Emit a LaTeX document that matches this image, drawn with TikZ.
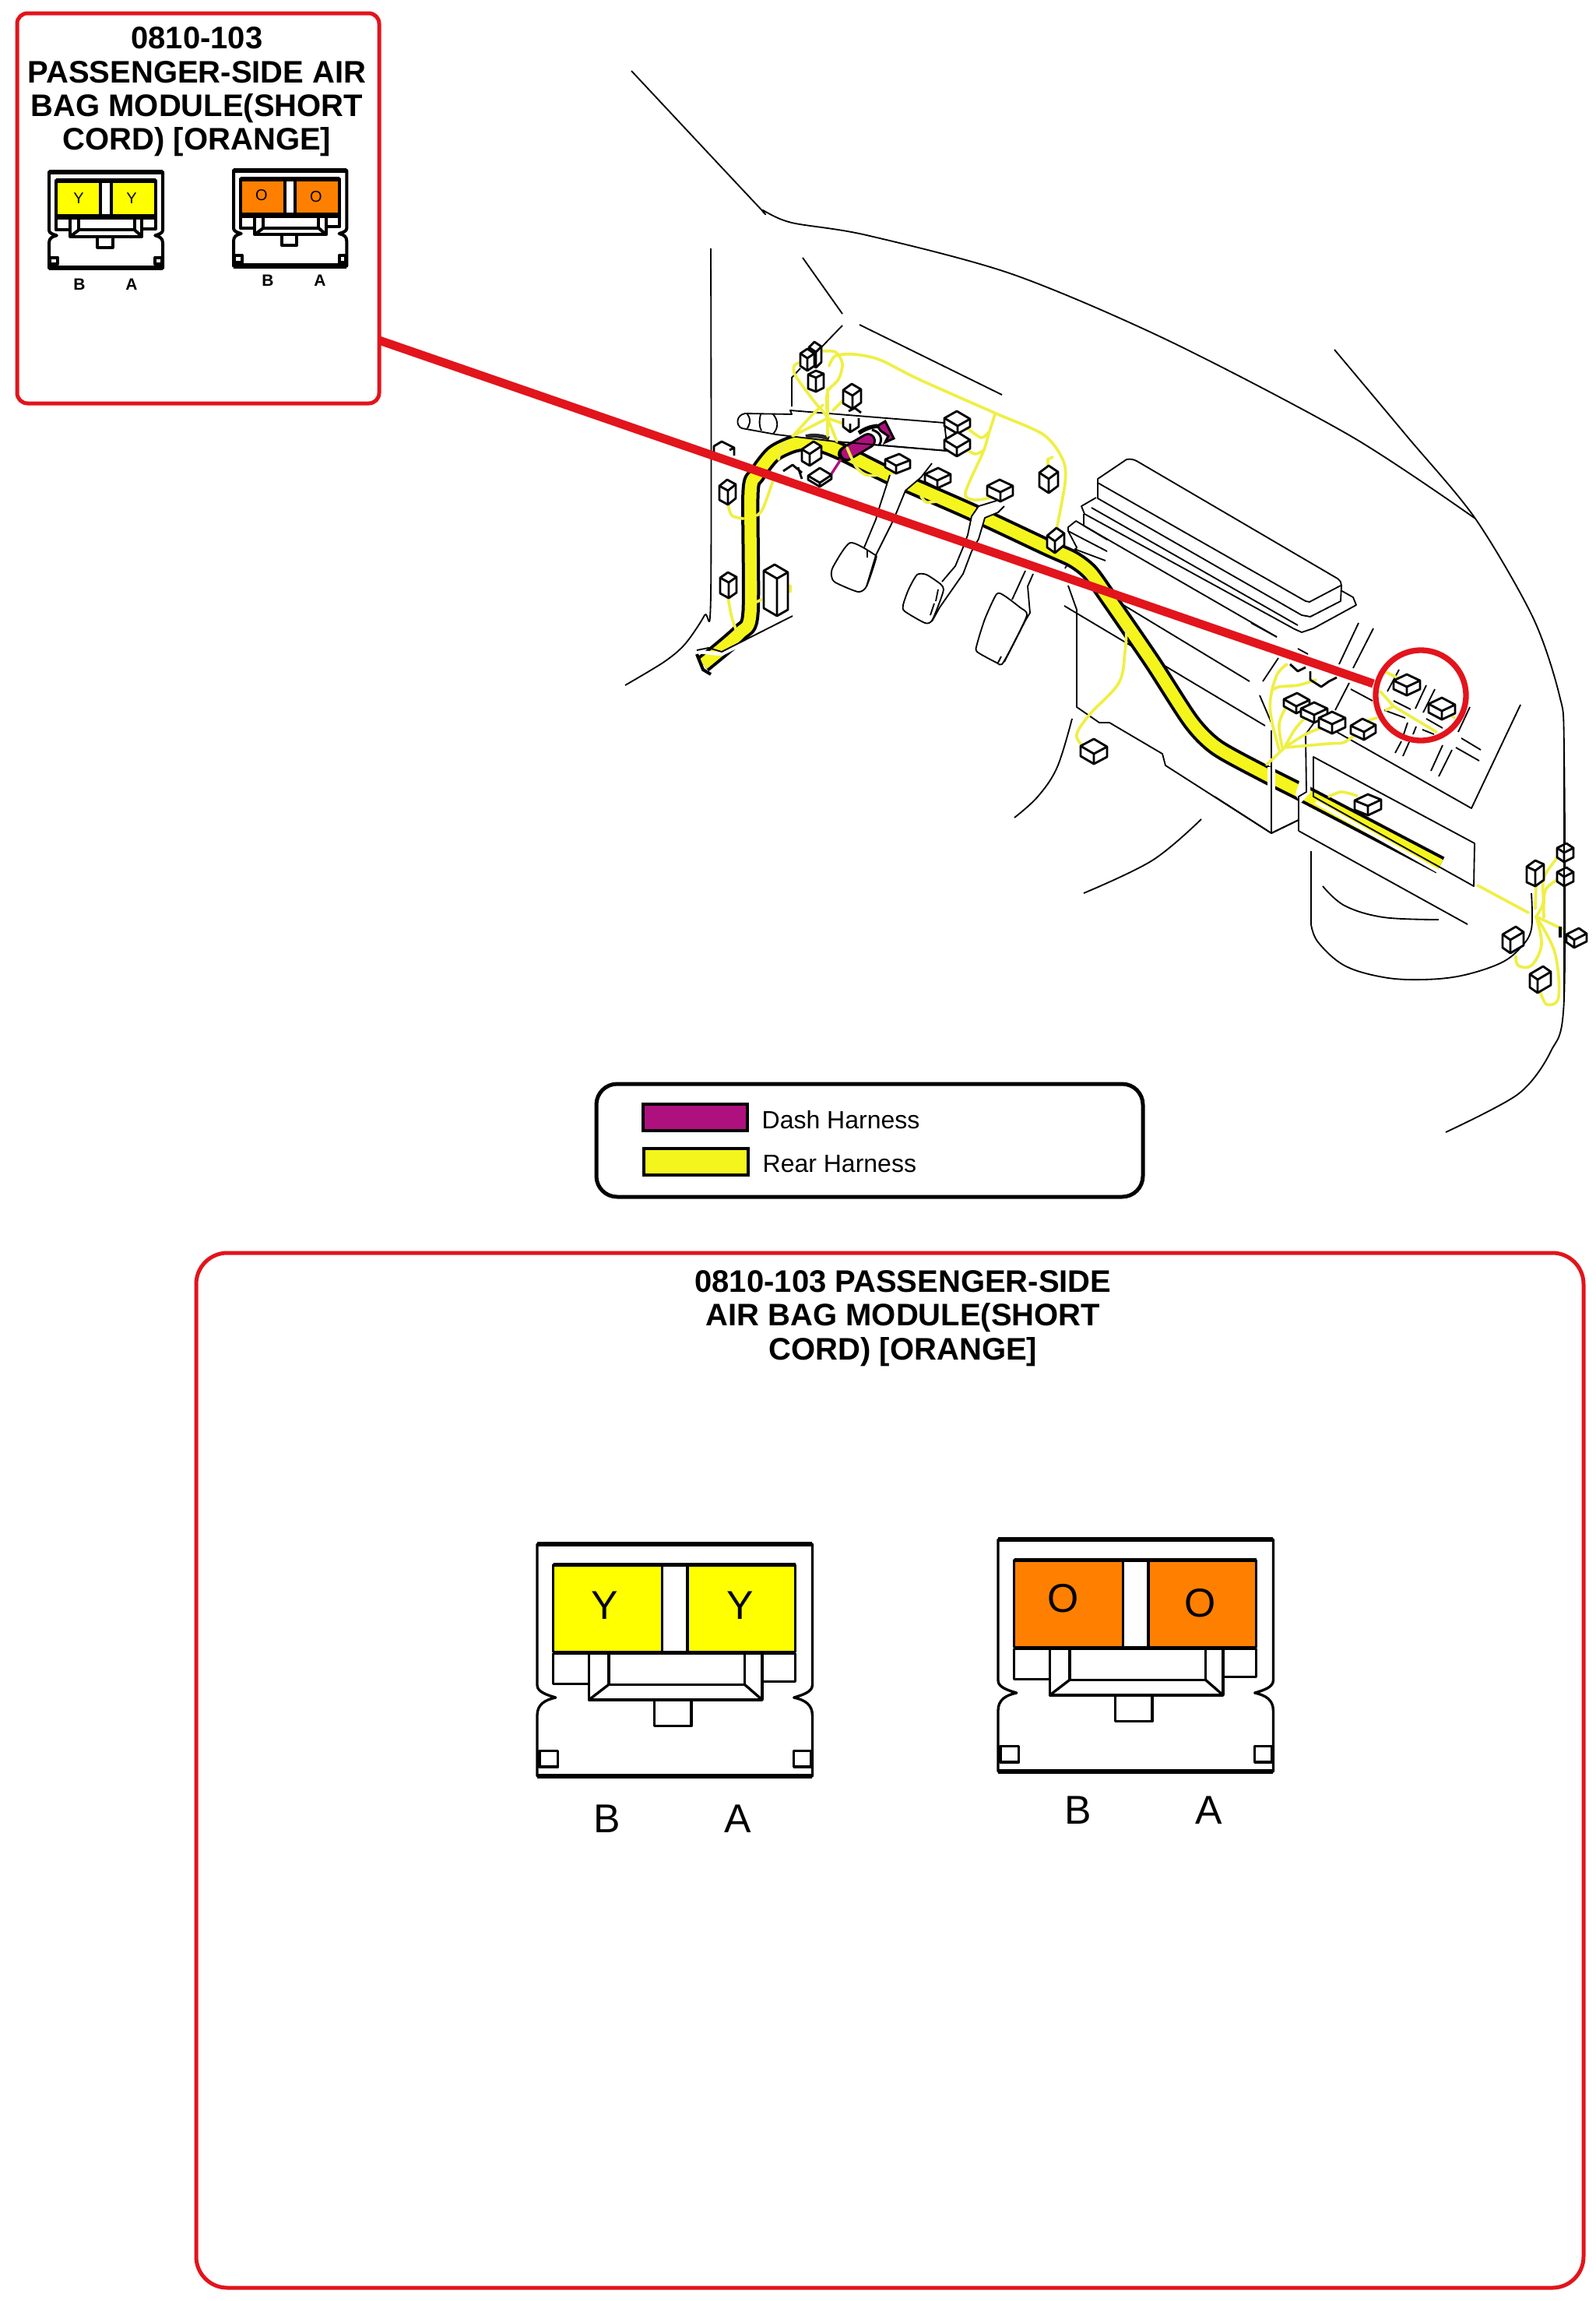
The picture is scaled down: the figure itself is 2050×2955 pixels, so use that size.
\documentclass[tikz,border=0pt]{standalone}
\usepackage{fontspec}
\setmainfont{Liberation Sans}
\definecolor{redline}{HTML}{E2141C}
\definecolor{plugyellow}{HTML}{FFFF00}
\definecolor{plugorange}{HTML}{FF8000}
\definecolor{harnessyellow}{HTML}{F5F51E}
\definecolor{wireyellow}{HTML}{EFEF45}
\definecolor{dashpurple}{HTML}{AE107E}
\tikzset{
    body/.style={line width=0.55pt,black,line join=round},
    wire/.style={line width=1.1pt,wireyellow,line cap=round},
    purplewire/.style={line width=1pt,dashpurple},
    calloutbox/.style={line width=1.5pt,draw=redline,rounded corners=4pt},
    title/.style={font=\bfseries\fontsize{12}{13}\selectfont,align=center,inner sep=0pt},
    bigletter/.style={font=\fontsize{15.5}{16}\selectfont,inner sep=0pt},
    tinyletter/.style={font=\fontsize{6}{6}\selectfont,inner sep=0pt},
    tinypin/.style={font=\bfseries\fontsize{6.3}{6}\selectfont,inner sep=0pt},
    legendtext/.style={font=\fontsize{9.6}{10}\selectfont,inner sep=0pt,anchor=west},
}
\newcommand{\plugcube}[7]{
    \filldraw[body,line width=0.85pt,fill=white] (#1,#2) ++(-#3,-#4) -- ++(#5,-#6) -- ++(#3,#4) -- ++(0,#7) -- ++(-#5,#6) -- ++(-#3,-#4) -- cycle;
    \draw[body,line width=0.85pt] (#1,#2) ++(-#3,-#4) -- ++(#3,#4) -- ++(#5,-#6) (#1,#2) -- ++(0,#7);
}
\newcommand{\plugbody}[5]{
    \begin{scope}[shift={(#1,#2)},scale=#3,line width=#5,line join=round]
        \filldraw[fill=white] (0,0) -- (0,183) .. controls (0,192) and (14,196) .. (24,199) .. controls (10,202) and (0,208) .. (0,222) -- (0,301) -- (357,301) -- (357,222) .. controls (357,208) and (347,202) .. (333,199) .. controls (343,196) and (357,192) .. (357,183) -- (357,0) -- cycle;
        \draw[line width=1.6*#5] (0,0) -- (357,0) (0,301) -- (357,301);
        \filldraw[fill=#4] (21,27) rectangle (162,140);
        \filldraw[fill=#4] (195,27) rectangle (335,140);
        \draw[line width=1.6*#5] (21,27) -- (335,27) (21,141) -- (335,141);
        \draw (21,141) -- (21,181) -- (67,181) (335,141) -- (335,178) -- (292,178);
        \draw (67,141) -- (67,202) -- (292,202) -- (292,141);
        \draw (93,141) -- (93,182) -- (269,182) -- (269,141);
        \draw (67,202) -- (93,182) (292,202) -- (269,182);
        \draw (152,202) -- (152,236) -- (200,236) -- (200,202);
        \draw (3,268) rectangle (27,289) (333,268) rectangle (355,289);
    \end{scope}
}
\begin{document}
\begin{tikzpicture}[x=0.3pt,y=-0.3pt]
    \useasboundingbox[fill=white] (0,0) rectangle (2050,2955);

    % outer car lines
    \draw[body] plot[smooth,tension=0.5] coordinates {(811,91) (972,263) (980,270) (1017,286) (1113,302) (1300,352) (1500,437) (1735,560) (1895,666)};
    \draw[body] plot[smooth,tension=0.5] coordinates {(1714,449) (1807,560) (1895,666) (1969,793) (2003,893) (2009,960) (2009,1283) (1992,1350) (1950,1405) (1857,1454)};
    \draw[body] (1031,331) -- (1082,403) (1082,418) -- (1053,448) (1104,417) -- (1287,507);
    \draw[body] (1028,473) -- (1017,485) -- (1017,522);
    \draw[body] plot[smooth,tension=0.5] coordinates {(913,319) (913,763) (905,790) (880,827) (853,850) (803,880)};

    % console
    \draw[body] (1410,640) -- (1410,615) -- (1447,590) .. controls (1452,589) and (1456,590) .. (1460,592) -- (1718,743) .. controls (1722,746) and (1723,749) .. (1723,752) -- (1722,772) -- (1683,792) -- (1672,790) -- cycle;
    \draw[body] (1410,620) -- (1677,772) -- (1682,773) -- (1722,752);
    \draw[body] (1408,639) -- (1389,650) -- (1393,660) -- (1663,808) -- (1672,812) -- (1687,807) -- (1742,777) -- (1738,767) -- (1722,758);
    \draw[body] (1402,652) -- (1667,803) (1392,660) -- (1392,675) -- (1640,818);
    \draw[body] (1382,669) -- (1372,677) -- (1372,682) -- (1422,708) (1382,669) -- (1422,693);
    \draw[body] (1372,682) -- (1383,703) -- (1368,730) (1380,705) -- (1420,720);
    \draw[body] (1372,752) -- (1383,783) -- (1383,908) -- (1412,928) -- (1425,928) -- (1493,968) -- (1497,983) -- (1633,1070) -- (1668,1053);
    \draw[body] plot[smooth,tension=0.6] coordinates {(1377,923) (1358,985) (1333,1023) (1303,1050)};
    \draw[body] plot[smooth,tension=0.6] coordinates {(1543,1052) (1480,1105) (1392,1147)};
    \draw[body] (1367,778) -- (1625,932) (1443,777) -- (1605,875);
    \draw[body] (1607,800) -- (1640,818) (1642,845) -- (1622,875) (1618,893) -- (1633,928) (1667,833) -- (1680,840);
    \draw[body] (1745,800) -- (1720,853) (1764,807) -- (1738,858) (1735,885) -- (1763,900) (1733,877) -- (1715,912);
    \draw[body] (1797,860) -- (1782,888) (1790,900) -- (1812,911) (1778,912) -- (1805,922) (1832,880) -- (1818,910) (1843,885) -- (1828,915);
    \draw[body] (1832,923) -- (1853,935) (1827,937) -- (1842,943) (1888,908) -- (1873,940) (1877,948) -- (1902,963) (1870,960) -- (1900,977);
    \draw[body] (1853,957) -- (1838,990) (1865,963) -- (1848,997) (1808,928) -- (1803,943) (1819,933) -- (1815,943) (1800,952) -- (1792,967) (1810,953) -- (1802,971);
    \draw[body] (1717,940) -- (1890,1038) -- (1953,905);

    % lower part and panel
    \draw[body] (1684,1093) -- (1684,1187);
    \draw[body] plot[smooth,tension=0.6] coordinates {(1684,1187) (1693,1210) (1727,1240) (1777,1255) (1827,1258) (1877,1253) (1927,1237) (1953,1217) (1967,1193) (1967,1147)};
    \draw[body] plot[smooth,tension=0.6] coordinates {(1699,1138) (1727,1163) (1777,1178) (1848,1181)};
    \draw[body] (1668,1067) -- (1885,1187);

    % rear harness
    \draw[line width=7pt,black,line join=round] plot[smooth,tension=0.45] coordinates {(903,853) (950,813) (964,787) (964,633) (972,610) (993,583) (1020,570) (1047,568) (1080,580) (1147,613) (1247,657) (1343,702) (1378,718) (1400,735) (1423,767) (1480,850) (1530,927) (1563,960) (1623,993) (1682,1023) (1850,1111)};
    \draw[line width=4.6pt,harnessyellow,line join=round] plot[smooth,tension=0.45] coordinates {(903,853) (950,813) (964,787) (964,633) (972,610) (993,583) (1020,570) (1047,568) (1080,580) (1147,613) (1247,657) (1343,702) (1378,718) (1400,735) (1423,767) (1480,850) (1530,927) (1563,960) (1623,993) (1682,1023) (1850,1111)};
    \draw[line width=1.2pt,black] (895,840) -- (903,860) -- (913,866);
    \fill[white] (1628,985) rectangle (1638,1040);
    \fill[white] (1673,990) -- (1683,990) -- (1683,1018) -- (1670,1032) -- (1664,1020) -- cycle;
    \draw[white,line width=1.4pt] (1690,1030) -- (1860,1126);
    \draw[white,line width=1.4pt] (886,836) -- (927,840) -- (1018,794);
    \draw[body] (895,835) -- (910,832) -- (927,837) -- (1018,791);

    % console verticals over harness
    \draw[body] (1633,938) -- (1633,1070) (1560,1023) -- (1633,1070);
    \draw[body] (1688,928) -- (1677,943) -- (1678,1017) -- (1668,1023) -- (1668,1067);
    \draw[body] (1633,1070) -- (1668,1053);
    \draw[body] (1687,1023) -- (1687,972) -- (1894,1083) -- (1893,1138) -- cycle;

    % pedals
    \fill[white] (1143,610) -- (1130,650) -- (1125,667) -- (1110,703) -- (1125,713) -- (1145,673) -- (1152,657) -- (1163,630) -- (1183,613) -- (1197,595) -- cycle;
    \draw[body] (1143,610) -- (1130,650) -- (1125,667) -- (1110,703);
    \draw[body] (1197,595) -- (1183,613) -- (1163,630) -- (1152,657) -- (1145,673) -- (1125,713) -- (1113,753);
    \draw[body] plot[smooth cycle,tension=0.4] coordinates {(1092,697) (1123,712) (1125,718) (1113,753) (1102,760) (1073,748) (1068,740) (1070,728)};
    \draw[body] (1114,707) -- (1114,716);
    \fill[white] (1280,643) -- (1257,650) -- (1248,663) -- (1243,687) -- (1237,703) -- (1227,727) -- (1210,747) -- (1207,780) -- (1237,737) -- (1248,708) -- (1257,692) -- (1265,665) -- (1282,658) -- (1290,650) -- cycle;
    \draw[body] (1280,643) -- (1257,650) -- (1248,663) -- (1243,687) -- (1237,703) -- (1227,727) -- (1210,747);
    \draw[body] (1290,650) -- (1282,658) -- (1265,665) -- (1257,692) -- (1248,708) -- (1237,737) -- (1207,780) -- (1197,798);
    \draw[body] plot[smooth cycle,tension=0.4] coordinates {(1178,738) (1190,738) (1208,750) (1212,757) (1207,773) (1197,797) (1188,800) (1162,785) (1160,777) (1167,757)};
    \draw[body] (1205,757) -- (1202,772) (1200,775) -- (1195,790);
    \draw[body] (1317,733) -- (1300,770) (1327,737) -- (1320,753) -- (1323,787) -- (1317,797) -- (1290,850);
    \draw[body] plot[smooth cycle,tension=0.4] coordinates {(1280,763) (1290,765) (1310,780) (1319,790) (1300,830) (1287,853) (1280,851) (1255,837) (1255,827) (1265,795)};
    \draw[body] (1286,843) -- (1282,851);

    % steering column
    \filldraw[body,fill=white] (1015,527) -- (1213,543) -- (1217,579) -- (1073,567) -- (997,558) -- (953,550) .. controls (945,547) and (945,533) .. (957,531) -- (1017,532) -- cycle;
    \draw[body] (960,532) .. controls (966,540) and (962,546) .. (960,550);
    \draw[body] (977,532) .. controls (975,540) and (975,548) .. (978,553);
    \draw[body] (993,532) .. controls (1000,540) and (1000,550) .. (993,557);
    \draw[line width=1.6pt,black!85] (1035,561) .. controls (1045,558) and (1055,560) .. (1065,563);

    % dash harness
    \draw[line cap=round,line width=6pt,black] (1086,583) -- (1115,566);
    \draw[line cap=round,line width=4.2pt,dashpurple] (1088,582) -- (1115,566);
    \filldraw[line width=0.9pt,fill=dashpurple] (1127,547) -- (1137,541) -- (1148,563) -- (1137,568) -- (1141,560) -- (1131,553) -- cycle;
    \draw[line width=1.6pt] (1103,556) .. controls (1115,548) and (1122,548) .. (1127,547);
    \draw[body,line width=0.9pt] (1120,552) .. controls (1132,555) and (1134,565) .. (1129,572);
    \draw[body] (1073,567) -- (1217,579);
    \draw[purplewire] (1080,590) -- (1067,610);

    % wires
    \draw[wire] plot[smooth] coordinates {(1028,465) (1020,470) (1022,483) (1047,517) (1057,528) (1063,537)};
    \draw[wire] plot[smooth] coordinates {(1053,451) (1073,452) (1082,467) (1077,487) (1063,503) (1062,527)};
    \draw[wire] plot[smooth,tension=0.5] coordinates {(1065,470) (1073,457) (1097,455) (1130,462) (1180,487) (1277,530) (1340,558) (1365,590) (1368,620) (1355,690)};
    \draw[wire] plot[smooth] coordinates {(1278,532) (1270,557) (1263,580) (1240,633) (1253,642) (1277,638)};
    \draw[wire] plot[smooth] coordinates {(1240,548) (1260,562) (1270,555)};
    \draw[wire] plot[smooth] coordinates {(1240,577) (1253,583) (1264,578)};
    \draw[wire] (1352,587) -- (1346,590) -- (1346,607);
    \draw[wire] (1063,537) -- (1018,560) (1063,537) -- (1075,567) (1063,537) -- (1063,560) (1063,500) -- (1063,537) (1063,537) -- (1083,544) (1082,515) -- (1070,527) (1043,533) -- (1020,558) (1043,533) -- (1057,520);
    \draw[wire] plot[smooth] coordinates {(1010,568) (1003,577) (1000,590)};
    \draw[wire] plot[smooth] coordinates {(993,617) (980,653) (972,662)};
    \draw[wire] plot[smooth] coordinates {(935,647) (940,662) (955,666)};
    \draw[wire] plot[smooth] coordinates {(935,767) (940,793) (946,810)};
    \draw[wire] (972,773) -- (978,770) (1015,752) -- (1015,760);
    \draw[wire] plot[smooth] coordinates {(1088,575) (1100,600) (1113,610) (1130,610)};
    \draw[wire] plot[smooth] coordinates {(1183,637) (1190,645) (1207,643)};
    \draw[wire] plot[smooth,tension=0.6] coordinates {(1447,807) (1445,837) (1437,877) (1400,917) (1383,943) (1390,957)};
    \draw[wire] (1627,982) -- (1650,960);
    \draw[wire] plot[smooth,tension=0.6] coordinates {(1643,963) (1633,923) (1632,897) (1640,867) (1653,853)};
    \draw[wire] plot[smooth,tension=0.6] coordinates {(1633,887) (1643,882) (1667,880) (1690,873)};
    \draw[wire] plot[smooth,tension=0.6] coordinates {(1647,960) (1643,930) (1652,908)};
    \draw[wire] plot[smooth,tension=0.6] coordinates {(1650,960) (1663,937) (1678,920)};
    \draw[wire] plot[smooth,tension=0.6] coordinates {(1650,960) (1677,943) (1702,933)};
    \draw[wire] plot[smooth,tension=0.6] coordinates {(1650,960) (1707,955) (1727,953) (1747,938)};
    \draw[wire] plot[smooth] coordinates {(1707,1023) (1723,1017) (1743,1022)};
    \draw[wire] (1758,925) -- (1768,922) (1780,863) -- (1798,872) (1773,888) -- (1790,907) -- (1845,940) (1780,912) -- (1790,907) (1862,915) -- (1868,922);
    \draw[wire] (1898,1137) -- (1963,1172);
    \draw[wire] (1972,1167) -- (1973,1137);
    \draw[wire] plot[smooth] coordinates {(1973,1177) (1982,1160) (1983,1127) (2003,1098)};
    \draw[wire] plot[smooth] coordinates {(1983,1178) (1985,1143) (2005,1127)};
    \draw[wire] (1973,1177) -- (2007,1193);
    \draw[wire] plot[smooth,tension=0.6] coordinates {(1973,1177) (1980,1213) (1967,1240) (1950,1240) (1947,1228)};
    \draw[wire] plot[smooth,tension=0.6] coordinates {(1973,1177) (1997,1223) (2002,1280) (1987,1290) (1978,1273)};

    % small connectors
    \foreach \cx/\cy/\ca/\cb/\cc/\cd/\ch in {1048/452/9/6/7/7/20,1037/460/9/6/9/6/16,1048/485/10/4/10/5/18,1095/508/12/7/11/8/17,1230/547/17/10/16/9/10,1229/575/16/10/17/10/11,1151/598/14/8/18/7/10,1204/617/16/8/17/8/10,1285/632/17/8/16/8/12,935/630/11/6/10/8/18,936/748/11/6/10/7/20,998/743/17/10/14/8/48,1040/583/10/6/15/10/15,1053/620/15/9/15/10/5,1347/615/12/8/12/9/18,1355/695/10/7/12/10/15,1405/968/17/10/17/9/13,1665/907/16/9/17/8/9,1688/918/17/8/17/8/10,1711/930/17/8/17/8/12,1752/940/17/8/15/9/10,1757/1035/17/7/17/8/12,1807/882/17/8/17/8/11,1852/913/17/9/17/8/11,1972/1118/11/5/11/8/20,1940/1207/10/7/17/10/17,1975/1258/10/7/17/10/17,2022/1207/10/7/16/8/10,2009/1095/9/6/12/6/12,2009/1126/9/6/12/6/12}{
        \plugcube{\cx}{\cy}{\ca}{\cb}{\cc}{\cd}{\ch}
    }
    \draw[body,line width=0.85pt] (1083,537) -- (1083,548) -- (1092,555) -- (1103,548) -- (1103,537) (1092,544) -- (1092,555);
    \draw[body,line width=0.85pt] (1090,528) -- (1098,524) -- (1106,530);
    \draw[body,line width=0.85pt] (917,590) -- (917,573) -- (927,567) -- (943,575) -- (943,585) (937,578) -- (943,575);
    \draw[body,line width=0.85pt] (1006,605) -- (1018,597) -- (1030,607) (1025,600) -- (1030,615);
    \draw[body,line width=0.85pt] (1683,862) -- (1683,873) -- (1697,882) -- (1707,875) -- (1717,870) (1657,853) -- (1667,862) -- (1677,857);
    \draw[body,line width=1pt] (2004,1190) -- (2004,1204);
    \draw[body] (2009,960) -- (2009,1283);

    % callout
    \draw[line width=3.3pt,redline] (487,437) -- (1764,878);
    \draw[line width=2.2pt,redline] (1825,893) ellipse (58 and 58);

    % small box
    \draw[calloutbox] (22,17) rectangle (487,518);
    \node[title] (smalltitle) at (253,118) {0810-103\\PASSENGER-SIDE AIR\\BAG MODULE(SHORT\\CORD) [ORANGE]};
    \plugbody{63}{221}{0.409}{plugyellow}{1.2pt}
    \plugbody{300}{219}{0.407}{plugorange}{1.2pt}
    \node[tinyletter] (smally1) at (101,255) {Y};
    \node[tinyletter] (smally2) at (169,255) {Y};
    \node[tinyletter] (smallo1) at (336,251) {O};
    \node[tinyletter] (smallo2) at (406,253) {O};
    \node[tinypin] (smallb1) at (102,365) {B};
    \node[tinypin] (smalla1) at (169,365) {A};
    \node[tinypin] (smallb2) at (344,360) {B};
    \node[tinypin] (smalla2) at (411,360) {A};

    % legend
    \draw[line width=1.5pt,rounded corners=8pt] (766,1392) rectangle (1468,1537);
    \filldraw[line width=1.1pt,fill=dashpurple] (826,1418) rectangle (960,1452);
    \filldraw[line width=1.1pt,fill=harnessyellow] (827,1475) rectangle (961,1509);
    \node[legendtext] (dashtext) at (978,1438) {Dash Harness};
    \node[legendtext] (reartext) at (979,1495) {Rear Harness};

    % big box
    \draw[calloutbox,rounded corners=12pt] (252,1609) rectangle (2034,2938);
    \node[title] (bigtitle) at (1160,1693) {0810-103 PASSENGER-SIDE\\AIR BAG MODULE(SHORT\\CORD) [ORANGE]};
    \plugbody{690}{1983}{0.99}{plugyellow}{1pt}
    \plugbody{1282}{1977}{0.99}{plugorange}{1pt}
    \node[bigletter] (bigy1) at (777,2062) {Y};
    \node[bigletter] (bigy2) at (951,2062) {Y};
    \node[bigletter] (bigo1) at (1366,2053) {O};
    \node[bigletter] (bigo2) at (1542,2059) {O};
    \node[bigletter] (bigb1) at (780,2336) {B};
    \node[bigletter] (biga1) at (948,2336) {A};
    \node[bigletter] (bigb2) at (1385,2325) {B};
    \node[bigletter] (biga2) at (1553,2325) {A};
\end{tikzpicture}
\end{document}
